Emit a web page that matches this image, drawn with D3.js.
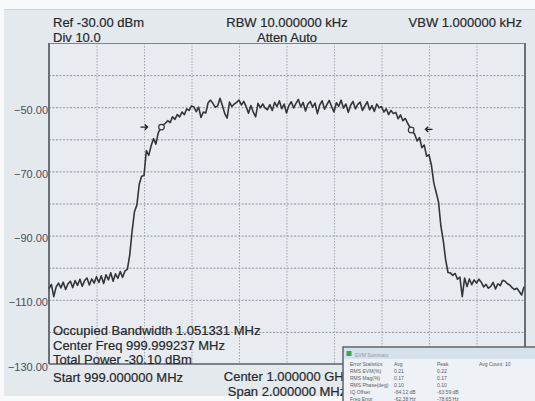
<!DOCTYPE html>
<html><head><meta charset="utf-8">
<script src="https://cdn.jsdelivr.net/npm/d3@7"></script>
<style>html,body{margin:0;padding:0;background:#fff;} svg{display:block;font-family:"Liberation Sans",Arial,sans-serif;}</style>
</head><body><svg id="c" width="535" height="401"></svg>
<script>
// ---------- data ----------
const headerLeft = ["Ref -30.00 dBm", "Div 10.0"];
const headerCenter = ["RBW 10.000000 kHz", "Atten Auto"];
const headerRight = ["VBW 1.000000 kHz"];
const resultLines = ["Occupied Bandwidth 1.051331 MHz", "Center Freq 999.999237 MHz", "Total Power -30.10 dBm"];
const footerLeft = ["Start 999.000000 MHz"];
const footerCenter = ["Center 1.000000 GHz", "Span 2.000000 MHz"];
const yTicks = [-130, -120, -110, -100, -90, -80, -70, -60, -50, -40, -30];
const yLabelTicks = [-130, -110, -90, -70, -50];
const xTicks = [999.0, 999.2, 999.4, 999.6, 999.8, 1000.0, 1000.2, 1000.4, 1000.6, 1000.8, 1001.0];
const traceStartMHz = 999.0;
const traceStepMHz = 0.01;
const traceDbm = [
 -106.5,-105.2,-109.0,-106.0,-104.8,-106.3,-104.5,-106.8,-105.0,-104.2,
 -106.2,-104.0,-105.5,-103.6,-105.8,-104.0,-103.2,-105.4,-103.5,-104.8,
 -102.8,-104.6,-102.5,-104.9,-102.2,-103.8,-101.6,-104.2,-101.9,-103.3,
 -101.2,-103.0,-101.0,-100.5,-96.0,-88.5,-82.5,-80.5,-74.0,-71.5,
 -71.3,-63.5,-65.0,-62.0,-59.8,-61.5,-58.0,-56.5,-55.6,-55.0,
 -54.2,-54.8,-53.0,-53.8,-52.3,-53.0,-51.5,-52.3,-50.5,-51.0,
 -49.6,-49.9,-51.4,-50.0,-53.2,-51.5,-51.8,-48.6,-47.8,-48.8,
 -50.0,-49.6,-47.2,-49.5,-52.0,-53.4,-48.4,-49.8,-49.0,-48.5,
 -47.8,-49.3,-48.2,-49.8,-51.9,-49.5,-51.5,-53.0,-48.8,-50.2,
 -49.0,-50.3,-50.8,-49.2,-51.0,-48.5,-49.8,-48.0,-50.5,-49.0,
 -51.8,-49.5,-48.3,-50.2,-48.8,-47.6,-49.9,-48.5,-51.2,-49.0,
 -48.2,-50.0,-48.7,-52.0,-49.3,-48.0,-50.6,-49.2,-47.9,-49.8,
 -51.5,-48.6,-49.7,-47.8,-50.3,-49.0,-51.6,-49.4,-48.2,-50.5,
 -49.1,-48.4,-51.0,-49.6,-48.3,-50.8,-49.5,-51.3,-49.0,-50.2,
 -49.8,-51.5,-50.5,-52.3,-51.0,-52.0,-51.6,-53.6,-52.4,-54.2,
 -53.5,-55.0,-56.3,-57.4,-58.5,-60.5,-59.5,-62.6,-61.8,-65.3,
 -64.8,-68.0,-73.5,-76.5,-79.5,-87.0,-91.5,-97.5,-101.5,-101.6,
 -102.4,-101.8,-103.6,-102.9,-109.0,-103.2,-105.9,-103.5,-105.3,-103.8,
 -104.8,-103.6,-104.5,-106.0,-105.2,-106.4,-105.8,-104.6,-106.6,-105.0,
 -105.6,-103.9,-104.2,-105.0,-105.4,-106.2,-106.8,-106.4,-107.4,-108.5,
 -105.9
];
const obwMarkers = [{f: 999.473571, dbm: -56.2}, {f: 1000.524902, dbm: -57.1}];
const chanMarkers = [{f: 999.4, dbm: -56.2, dir: 1}, {f: 1000.6, dbm: -56.9, dir: -1}];
const evmTitle = "EVM Summary";
const evmHeader = ["Error Statistics", "Avg", "Peak", "Avg Count: 10"];
const evmRows = [
 ["RMS EVM(%)", "0.21", "0.22"],
 ["RMS Mag(%)", "0.17", "0.17"],
 ["RMS Phase(deg)", "0.10", "0.10"],
 ["IQ Offset", "-64.12 dB", "-63.59 dB"],
 ["Freq Error", "-62.38 Hz", "-78.65 Hz"]
];

// ---------- layout ----------
const W = 535, H = 401;
const P = {l: 49, r: 524, t: 43, b: 364};
const svg = d3.select("#c");
const x = d3.scaleLinear().domain([999, 1001]).range([P.l, P.r]);
const y = d3.scaleLinear().domain([-130, -30]).range([P.b, P.t]);

svg.append("rect").attr("width", W).attr("height", H).attr("fill", "#f8f9fb");
svg.append("rect").attr("x", 4).attr("y", 9).attr("width", W - 4).attr("height", 387)
  .attr("fill", "#e4e9ee");
svg.append("line").attr("x1", 4).attr("x2", W).attr("y1", 9.5).attr("y2", 9.5).attr("stroke", "#c9d1da");
svg.append("rect").attr("x", P.l).attr("y", P.t).attr("width", P.r - P.l).attr("height", P.b - P.t)
  .attr("fill", "#e8ecf1");

// gridlines via axes
const gy = svg.append("g").attr("transform", `translate(${P.l},0)`)
  .call(d3.axisLeft(y).tickValues(yTicks.slice(1, -1)).tickSize(-(P.r - P.l)).tickFormat(""));
gy.select(".domain").remove();
gy.selectAll(".tick line").attr("stroke", "#8e949b").attr("stroke-dasharray", "2,1.5").attr("stroke-width", 1);

const gx = svg.append("g").attr("transform", `translate(0,${P.t})`)
  .call(d3.axisTop(x).tickValues(xTicks.slice(1, -1)).tickSize(-(P.b - P.t)).tickFormat(""));
gx.select(".domain").remove();
gx.selectAll(".tick line").attr("stroke", "#a2a8b0").attr("stroke-dasharray", "1.5,1.5").attr("stroke-width", 1);

// y labels
const gl = svg.append("g").attr("transform", `translate(${P.l},0)`)
  .call(d3.axisLeft(y).tickValues(yLabelTicks).tickSize(0).tickPadding(1)
    .tickFormat(d => d3.format(".2f")(d)));
gl.select(".domain").remove();
gl.selectAll("text").attr("font-size", 11).attr("fill", "#4a4e55")
  .attr("font-family", "'Liberation Sans',Arial,sans-serif").attr("dy", "0.55em");

// frame
svg.append("line").attr("x1", P.l).attr("x2", P.r + 1).attr("y1", P.t + 0.5).attr("y2", P.t + 0.5).attr("stroke", "#7d838b");
svg.append("line").attr("x1", P.l).attr("x2", P.r + 1).attr("y1", P.b).attr("y2", P.b).attr("stroke", "#5a5f66").attr("stroke-width", 1.5);
svg.append("line").attr("x1", P.l).attr("x2", P.l).attr("y1", P.t).attr("y2", P.b).attr("stroke", "#6a7078").attr("stroke-width", 2);
svg.append("line").attr("x1", P.r + 1).attr("x2", P.r + 1).attr("y1", P.t).attr("y2", P.b).attr("stroke", "#6a7078").attr("stroke-width", 2);

// trace
const line = d3.line().x((d, i) => x(traceStartMHz + i * traceStepMHz)).y(d => y(d));
svg.append("path").datum(traceDbm).attr("d", line).attr("fill", "none")
  .attr("stroke", "#333639").attr("stroke-width", 1.6).attr("stroke-linejoin", "round");

// markers
svg.selectAll(".obw").data(obwMarkers).join("circle")
  .attr("cx", d => x(d.f)).attr("cy", d => y(d.dbm)).attr("r", 2.8)
  .attr("fill", "#e8ecf1").attr("stroke", "#333639").attr("stroke-width", 1.2);
svg.selectAll(".arr").data(chanMarkers).join("path")
  .attr("d", d => {
    const cx = x(d.f), cy = y(d.dbm), s = d.dir;
    return `M${cx - 3.5 * s},${cy}L${cx + 3.5 * s},${cy}M${cx + 0.8 * s},${cy - 2.6}L${cx + 3.5 * s},${cy}L${cx + 0.8 * s},${cy + 2.6}`;
  })
  .attr("fill", "none").attr("stroke", "#222").attr("stroke-width", 1.4);

// texts
const T = (s, tx, ty, anchor, size, fill) => svg.append("text").text(s).attr("x", tx).attr("y", ty)
  .attr("text-anchor", anchor || "start").attr("font-size", size || 13).attr("fill", fill || "#26282b")
  .attr("stroke", fill || "#26282b").attr("stroke-width", 0.2);
headerLeft.forEach((s, i) => T(s, 53, 26.5 + i * 15));
headerCenter.forEach((s, i) => T(s, 287, 26.5 + i * 15, "middle"));
headerRight.forEach((s, i) => T(s, 522, 26.5 + i * 15, "end"));
resultLines.forEach((s, i) => T(s, 53, 335 + i * 14.5));
footerLeft.forEach((s, i) => T(s, 53, 382));
footerCenter.forEach((s, i) => T(s, 287, 381 + i * 14.5, "middle"));

// EVM inset
const ins = svg.append("g").attr("transform", "translate(343,347)");
ins.append("rect").attr("x", 0).attr("y", 0).attr("width", 200).attr("height", 60)
  .attr("fill", "#eef1f5").attr("stroke", "#5d636b").attr("stroke-width", 1.5);
ins.append("rect").attr("x", 1).attr("y", 1).attr("width", 199).attr("height", 11).attr("fill", "#d7e1ec");
ins.append("rect").attr("x", 3.5).attr("y", 4).attr("width", 5).attr("height", 5).attr("fill", "#3ca64a");
ins.append("text").text(evmTitle).attr("x", 12).attr("y", 9.5).attr("font-size", 5).attr("fill", "#8a98a8");
const cols = [7, 51, 94, 136];
evmHeader.forEach((s, j) => ins.append("text").text(s).attr("x", cols[j]).attr("y", 19)
  .attr("font-size", 5).attr("fill", "#5a5e64"));
evmRows.forEach((r, i) => r.forEach((s, j) => ins.append("text").text(s).attr("x", cols[j])
  .attr("y", 26 + i * 7).attr("font-size", 5).attr("fill", "#5a5e64")));
</script></body></html>
